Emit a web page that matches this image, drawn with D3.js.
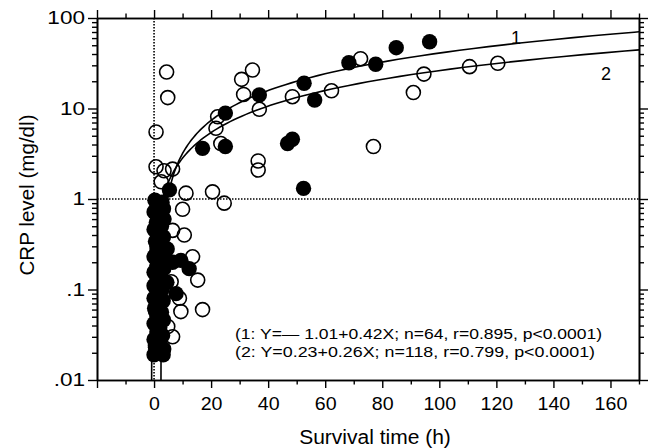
<!DOCTYPE html>
<html>
<head>
<meta charset="utf-8">
<script src="https://cdn.jsdelivr.net/npm/d3@7"></script>
<style>
  html, body { margin: 0; padding: 0; background: #fff; }
  svg { display: block; font-family: "Liberation Sans", Arial, sans-serif; }
</style>
</head>
<body>
<svg id="chart" width="654" height="448"></svg>
<script>
// ---------- data ----------
// filled circles (group 1, n=64)
const filledX = [5.4, 9.4, 12.3, 7.7, 17, 25, 25, 36.9, 46.8, 48.5, 52.4, 52.6, 56.3, 68.3, 77.7, 84.9, 96.6,
  0.3, 2.8, 1.2, 3.3, 0, 2, 3.5, 0.8, 2.6, 0,
  1.6, 3.3, 0.5, 2.4, 4.6, 1, 3, 0, 6.5, 2,
  1, 3.4, 0, 2.2, 4.5, 1, 0, 2.8, 1.5, 0,
  3.2, 1.8, 0.2, 2.6, 1, 3.3, 0, 2, 1, 3,
  0, 2, 0.5, 3.4, 0, 3.2, 1.6];
const filledY = [1.26, 0.21, 0.17, 0.09, 3.63, 3.8, 8.9, 14.1, 4.1, 4.57, 1.31, 19, 12.4, 32, 30.8, 47, 54.7,
  0.97, 0.92, 0.85, 0.78, 0.72, 0.66, 0.6, 0.55, 0.5, 0.46,
  0.42, 0.38, 0.34, 0.31, 0.28, 0.27, 0.25, 0.23, 0.2, 0.21,
  0.185, 0.17, 0.155, 0.14, 0.12, 0.125, 0.11, 0.1, 0.09, 0.08,
  0.075, 0.068, 0.062, 0.056, 0.05, 0.046, 0.042, 0.038, 0.034, 0.031,
  0.028, 0.026, 0.023, 0.022, 0.019, 0.019, 0.02];

// open circles (group 2, n=118) – many hidden inside the dense column near 0 h
const openX = [4.4, 4.8, 0.7, 0.7, 3.5, 6.5, 2.5, 11.2, 20.5, 24.6, 10, 10.6, 13.5, 15.3, 9.4, 17, 6.5, 6, 8.9, 4.8, 6.5,
  22.3, 21.7, 23.4, 30.7, 31.4, 34.5, 36.9, 36.5, 36.5, 48.5, 62.2, 72.4, 76.9, 90.9, 94.6, 110.6, 120.5,
  1, 2, 1.5, 0.5, 2.5, 1, 2, 1.5, 0.5, 2.5, 1, 2, 1.5, 0.5, 2.5, 1, 2, 1.5, 0.5, 2.5];
const openY = [25.3, 13.2, 5.5, 2.27, 2.05, 2.14, 1.55, 1.16, 1.2, 0.9, 0.77, 0.40, 0.23, 0.127, 0.057, 0.06, 0.45, 0.122, 0.08, 0.039, 0.03,
  8.1, 6.04, 4.1, 21, 14.3, 26.6, 9.8, 2.63, 2.09, 13.5, 15.7, 35.5, 3.8, 15, 24, 29, 31.6,
  0.9, 0.7, 0.55, 0.45, 0.36, 0.3, 0.24, 0.19, 0.15, 0.12, 0.1, 0.085, 0.07, 0.058, 0.048, 0.04, 0.033, 0.028, 0.024, 0.021];

// regression lines Y = a + bX (from the chart's annotation)
const lineNames = ["1", "2"];
const lineIntercepts = [-1.01, 0.23];
const lineSlopes = [0.42, 0.26];

const xMajorTicks = [-20, 0, 20, 40, 60, 80, 100, 120, 140, 160];
const xMinorTicks = [-10, 10, 30, 50, 70, 90, 110, 130, 150, 170];
const yMajorTicks = [0.01, 0.1, 1, 10, 100];
const yMajorLabels = [".01", ".1", "1", "10", "100"];

const annotations = [
  "(1: Y=\u2014 1.01+0.42X; n=64, r=0.895, p<0.0001)",
  "(2: Y=0.23+0.26X; n=118, r=0.799, p<0.0001)"
];

// ---------- layout ----------
const svg = d3.select("#chart");
const L = 97, R = 639, T = 18, B = 380;

const x = d3.scaleLinear().domain([-20, 170]).range([L, R]);
const y = d3.scaleLog().domain([0.01, 100]).range([B, T]);

const yMinorTicks = [];
[0.01, 0.1, 1, 10].forEach(d => { for (let k = 2; k <= 9; k++) yMinorTicks.push(d * k); });

// the reference typeface is a slightly wide sans; widen Liberation Sans to match
function stretch(sel, f) {
  sel.each(function () {
    const n = this.getComputedTextLength();
    if (n > 0) d3.select(this).attr("textLength", n * f).attr("lengthAdjust", "spacingAndGlyphs");
  });
}

svg.append("defs").append("clipPath").attr("id", "clip")
  .append("rect").attr("x", L).attr("y", T).attr("width", R - L).attr("height", B - T);

// reference dotted lines
svg.append("line").attr("x1", x(0)).attr("x2", x(0)).attr("y1", T).attr("y2", B)
  .attr("stroke", "#000").attr("stroke-width", 1.6).attr("stroke-dasharray", "1.5,1.5");
svg.append("line").attr("x1", L).attr("x2", R).attr("y1", y(1)).attr("y2", y(1))
  .attr("stroke", "#000").attr("stroke-width", 1.6).attr("stroke-dasharray", "1.5,1.5");

// points
const pts = svg.append("g").attr("clip-path", "url(#clip)");
pts.selectAll("circle.open").data(openX.map((v, i) => [v, openY[i]])).join("circle")
  .attr("class", "open")
  .attr("cx", d => x(d[0])).attr("cy", d => y(d[1])).attr("r", 7)
  .attr("fill", "none").attr("stroke", "#000").attr("stroke-width", 1.6);
pts.selectAll("circle.filled").data(filledX.map((v, i) => [v, filledY[i]])).join("circle")
  .attr("class", "filled")
  .attr("cx", d => x(d[0])).attr("cy", d => y(d[1])).attr("r", 7.7)
  .attr("fill", "#000").attr("stroke", "none");

// regression curves
const curves = svg.append("g").attr("clip-path", "url(#clip)");
lineNames.forEach((name, i) => {
  const a = lineIntercepts[i], b = lineSlopes[i];
  const root = -a / b;
  const xs = [];
  for (let t = -4; t <= Math.log10(170 - root); t += 0.02) xs.push(root + Math.pow(10, t));
  xs.push(170);
  const line = d3.line().x(d => x(d)).y(d => y(a + b * d));
  curves.append("path").datum(xs).attr("d", line)
    .attr("fill", "none").attr("stroke", "#000").attr("stroke-width", 1.6);
  curves.append("line").attr("x1", x(root + 1e-4)).attr("x2", x(root + 1e-4))
    .attr("y1", y(a + b * (root + 1e-4))).attr("y2", B + 5)
    .attr("stroke", "#000").attr("stroke-width", 1.6);
});
svg.append("text").attr("x", 516).attr("y", 44).attr("text-anchor", "middle")
  .attr("font-size", 18).text(lineNames[0]);
svg.append("text").attr("x", 606).attr("y", 80).attr("text-anchor", "middle")
  .attr("font-size", 18).text(lineNames[1]);

// axes
function styleAxis(g) {
  g.selectAll("path.domain").attr("stroke", "#000").attr("stroke-width", 1.6);
  g.selectAll(".tick line").attr("stroke", "#000").attr("stroke-width", 1.4);
  g.selectAll(".tick text").attr("font-size", 18.5).attr("fill", "#000")
    .attr("font-family", "'Liberation Sans', Arial, sans-serif");
}
const xLab = d => (d < 0 ? "" : d);
const xAxisG = svg.append("g").attr("transform", `translate(0,${B})`)
  .call(d3.axisBottom(x).tickValues(xMajorTicks).tickFormat(xLab).tickSize(8).tickSizeOuter(0).tickPadding(9))
  .call(styleAxis);
stretch(xAxisG.selectAll(".tick text"), 1.06);
svg.append("g").attr("transform", `translate(0,${B})`)
  .call(d3.axisBottom(x).tickValues(xMinorTicks).tickFormat("").tickSize(4.5).tickSizeOuter(0))
  .call(styleAxis);
svg.append("g").attr("transform", `translate(0,${T})`)
  .call(d3.axisTop(x).tickValues(xMajorTicks).tickFormat("").tickSize(8).tickSizeOuter(0))
  .call(styleAxis);
svg.append("g").attr("transform", `translate(0,${T})`)
  .call(d3.axisTop(x).tickValues(xMinorTicks).tickFormat("").tickSize(4.5).tickSizeOuter(0))
  .call(styleAxis);

const yAxisG = svg.append("g").attr("transform", `translate(${L},0)`)
  .call(d3.axisLeft(y).tickValues(yMajorTicks).tickFormat((d, i) => yMajorLabels[i]).tickSize(9).tickSizeOuter(0).tickPadding(3))
  .call(styleAxis);
stretch(yAxisG.selectAll(".tick text"), 1.22);
svg.append("g").attr("transform", `translate(${L},0)`)
  .call(d3.axisLeft(y).tickValues(yMinorTicks).tickFormat("").tickSize(5).tickSizeOuter(0))
  .call(styleAxis);
svg.append("g").attr("transform", `translate(${R},0)`)
  .call(d3.axisRight(y).tickValues(yMajorTicks).tickFormat("").tickSize(9).tickSizeOuter(0))
  .call(styleAxis);
svg.append("g").attr("transform", `translate(${R},0)`)
  .call(d3.axisRight(y).tickValues(yMinorTicks).tickFormat("").tickSize(5).tickSizeOuter(0))
  .call(styleAxis);

// annotation
const annLengths = [367, 360];
annotations.forEach((t, i) => {
  svg.append("text").attr("x", 235).attr("y", 339 + i * 17.5)
    .attr("font-size", 15.2)
    .attr("textLength", annLengths[i]).attr("lengthAdjust", "spacingAndGlyphs")
    .text(t);
});

// axis titles
const xt = svg.append("text").attr("x", 375).attr("y", 444).attr("text-anchor", "middle")
  .attr("font-size", 20).text("Survival time (h)");
stretch(xt, 1.05);
const yt = svg.append("text").attr("transform", `translate(34,195) rotate(-90)`).attr("text-anchor", "middle")
  .attr("font-size", 20).text("CRP level (mg/dl)");
stretch(yt, 1.03);
</script>
</body>
</html>
